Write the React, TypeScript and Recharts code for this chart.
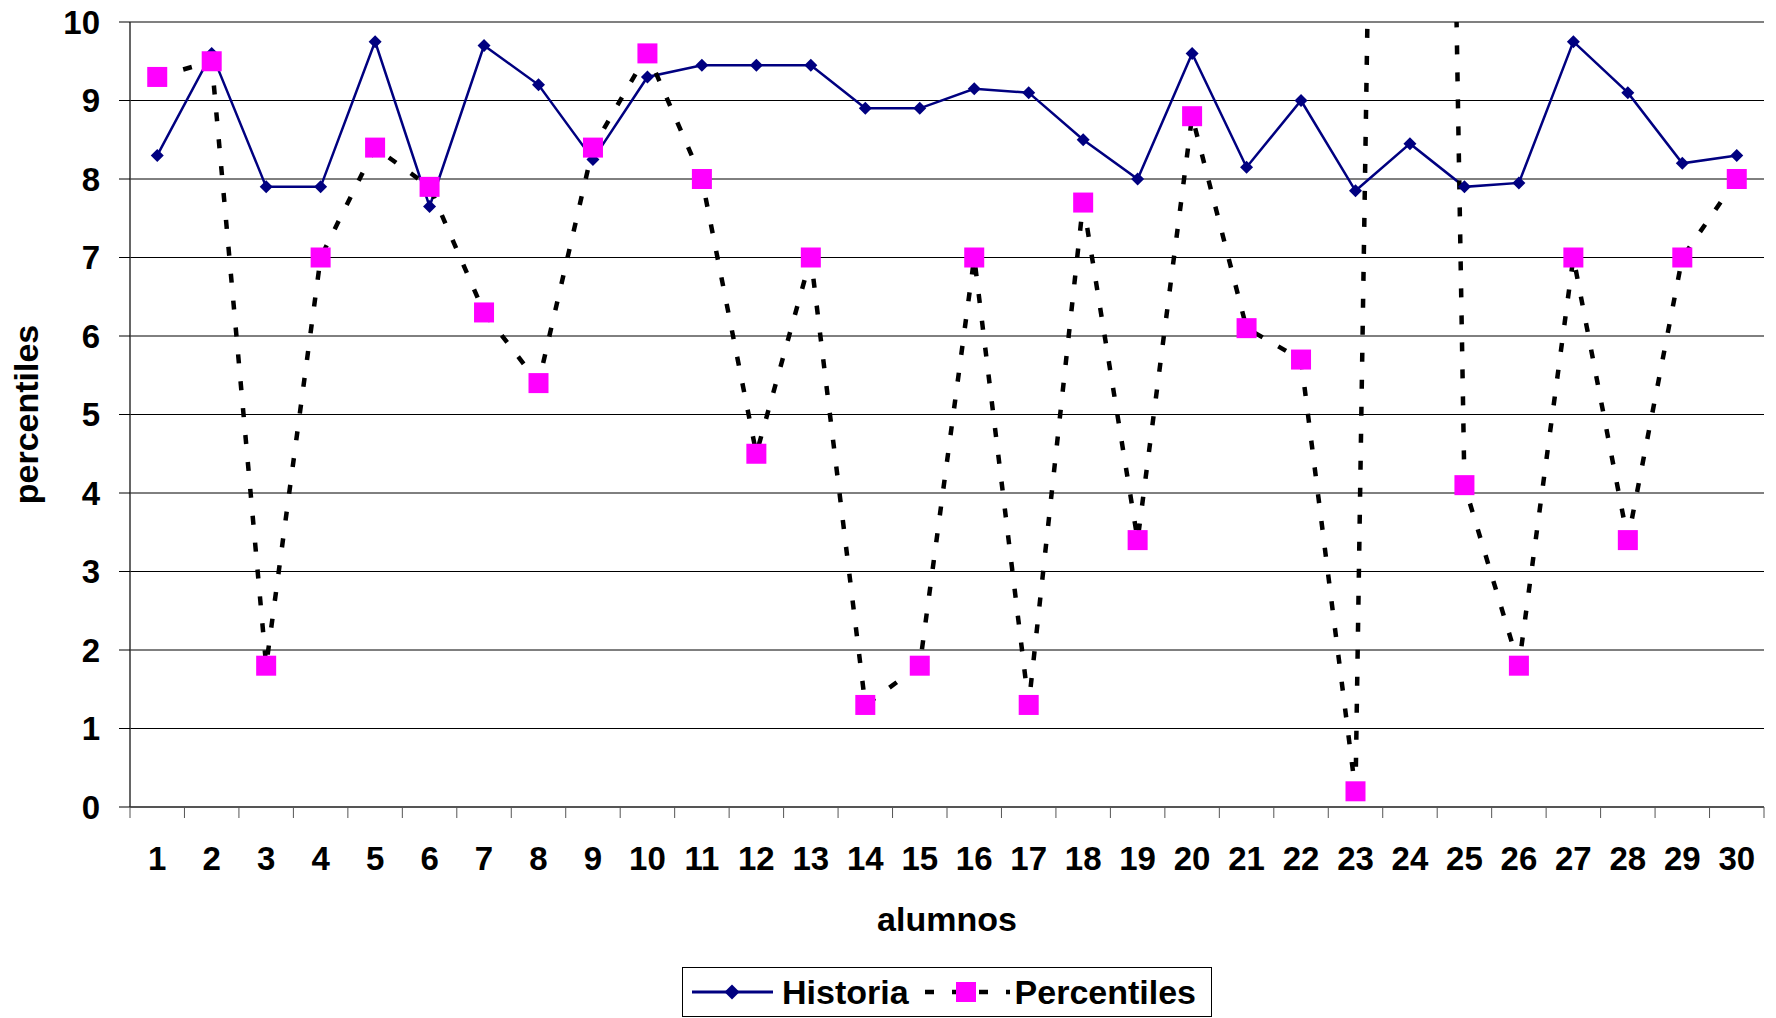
import { LineChart, Line, XAxis, YAxis, CartesianGrid, Legend, ReferenceLine } from 'recharts';

const alumnos = ['1', '2', '3', '4', '5', '6', '7', '8', '9', '10', '11', '12', '13', '14', '15', '16', '17', '18', '19', '20', '21', '22', '23', '24', '25', '26', '27', '28', '29', '30'];
const historia = [8.3, 9.6, 7.9, 7.9, 9.75, 7.65, 9.7, 9.2, 8.25, 9.3, 9.45, 9.45, 9.45, 8.9, 8.9, 9.15, 9.1, 8.5, 8.0, 9.6, 8.15, 9.0, 7.85, 8.45, 7.9, 7.95, 9.75, 9.1, 8.2, 8.3];
const percentiles = [9.3, 9.5, 1.8, 7.0, 8.4, 7.9, 6.3, 5.4, 8.4, 9.6, 8.0, 4.5, 7.0, 1.3, 1.8, 7.0, 1.3, 7.7, 3.4, 8.8, 6.1, 5.7, 0.2, 45, 4.1, 1.8, 7.0, 3.4, 7.0, 8.0];
const yTicks = [0, 1, 2, 3, 4, 5, 6, 7, 8, 9, 10];

const data = alumnos.map((a, i) => ({ alumno: a, Historia: historia[i], Percentiles: percentiles[i] }));

const W = 1776;
const H = 1018;
const MARGIN = { top: 22, right: 12, bottom: 1, left: 30 };
const Y_AXIS_W = 100;
const X_AXIS_H = 160;
const LEGEND_H = 50;
const AXIS_Y = H - MARGIN.bottom - LEGEND_H - X_AXIS_H;
const PLOT_W = W - MARGIN.left - Y_AXIS_W - MARGIN.right;
const BAND = PLOT_W / alumnos.length;

const FONT = '"Liberation Sans", Arial, sans-serif';
const NAVY = '#000080';
const MAGENTA = '#FF00FF';

function XTick(props: any) {
  const { x, payload } = props;
  const index = props.index ?? payload.index;
  const half = BAND / 2;
  return (
    <g>
      <line x1={x - half} x2={x - half} y1={AXIS_Y} y2={AXIS_Y + 11} stroke="#555" />
      {index === alumnos.length - 1 && (
        <line x1={x + half} x2={x + half} y1={AXIS_Y} y2={AXIS_Y + 11} stroke="#555" />
      )}
      <text x={x} y={AXIS_Y + 63} textAnchor="middle" fontSize={33} fontWeight={700} fontFamily={FONT} fill="#000">
        {payload.value}
      </text>
    </g>
  );
}

function Diamond(props: any) {
  const { cx, cy, s = 6.5 } = props;
  if (cx == null || cy == null) return null;
  return <polygon points={`${cx},${cy - s} ${cx + s},${cy} ${cx},${cy + s} ${cx - s},${cy}`} fill={NAVY} />;
}

function Square(props: any) {
  const { cx, cy, s = 10 } = props;
  if (cx == null || cy == null) return null;
  return <rect x={cx - s} y={cy - s} width={s * 2} height={s * 2} fill={MAGENTA} />;
}

function LegendBox() {
  const textStyle = { fontSize: 34, fontWeight: 700, fontFamily: FONT, color: '#000', lineHeight: '34px' };
  return (
    <div
      style={{
        boxSizing: 'border-box',
        height: LEGEND_H,
        width: 530,
        border: '1.5px solid #000',
        display: 'flex',
        alignItems: 'center',
        paddingLeft: 9,
        background: '#fff',
      }}
    >
      <svg width={81} height={30} style={{ marginRight: 9 }}>
        <line x1={0} x2={81} y1={15} y2={15} stroke={NAVY} strokeWidth={3} />
        <Diamond cx={40} cy={15} s={7.5} />
      </svg>
      <span style={textStyle}>Historia</span>
      <svg width={85} height={30} style={{ marginLeft: 16, marginRight: 5 }}>
        <line x1={0} x2={85} y1={15} y2={15} stroke="#000" strokeWidth={4.5} strokeDasharray="9 18" />
        <Square cx={41} cy={15} s={10} />
      </svg>
      <span style={textStyle}>Percentiles</span>
    </div>
  );
}

export default function App() {
  return (
    <div style={{ position: 'absolute', left: 0, top: 0, width: W, height: H, background: '#fff', fontFamily: FONT }}>
      <LineChart width={W} height={H} data={data} margin={MARGIN}>
        <CartesianGrid vertical={false} stroke="#000" strokeWidth={1} />
        <XAxis
          dataKey="alumno"
          interval={0}
          height={X_AXIS_H}
          padding={{ left: BAND / 2, right: BAND / 2 }}
          tickLine={false}
          tick={(p: any) => <XTick key={p.index ?? p.payload.value} {...p} />}
          axisLine={{ stroke: '#555', strokeWidth: 2 }}
          label={{
            content: (p: any) => (
              <text
                x={p.viewBox.x + p.viewBox.width / 2}
                y={p.viewBox.y + 124}
                textAnchor="middle"
                fontSize={34}
                fontWeight={700}
                fontFamily={FONT}
                fill="#000"
              >
                alumnos
              </text>
            ),
          }}
        />
        <YAxis
          type="number"
          domain={[0, 10]}
          ticks={yTicks}
          allowDataOverflow
          width={Y_AXIS_W}
          tickSize={11}
          tickMargin={19}
          tick={{ fill: '#000', fontSize: 33, fontWeight: 700, fontFamily: FONT }}
          tickLine={{ stroke: '#000' }}
          axisLine={{ stroke: '#333', strokeWidth: 1.5 }}
          label={{
            content: (p: any) => {
              const cy = p.viewBox.y + p.viewBox.height / 2;
              return (
                <text
                  x={38}
                  y={cy}
                  transform={`rotate(-90, 38, ${cy})`}
                  textAnchor="middle"
                  fontSize={34}
                  fontWeight={700}
                  fontFamily={FONT}
                  fill="#000"
                >
                  percentiles
                </text>
              );
            },
          }}
        />
        <YAxis
          yAxisId="right"
          orientation="right"
          type="number"
          domain={[0, 10]}
          width={0}
          tick={false}
          tickLine={false}
          axisLine={{ stroke: '#808080', strokeWidth: 2 }}
        />
        <ReferenceLine y={10} stroke="#808080" strokeWidth={2} />
        <Line
          dataKey="Historia"
          name="Historia"
          type="linear"
          stroke={NAVY}
          strokeWidth={2.5}
          dot={(p: any) => <Diamond key={p.index} cx={p.cx} cy={p.cy} />}
          activeDot={false}
          isAnimationActive={false}
        />
        <Line
          dataKey="Percentiles"
          name="Percentiles"
          type="linear"
          stroke="#000"
          strokeWidth={4.5}
          strokeDasharray="9 18"
          dot={(p: any) => <Square key={p.index} cx={p.cx} cy={p.cy} />}
          activeDot={false}
          isAnimationActive={false}
        />
        <Legend
          verticalAlign="bottom"
          align="left"
          wrapperStyle={{ left: 682, bottom: MARGIN.bottom, width: 530, height: LEGEND_H }}
          content={() => <LegendBox />}
        />
      </LineChart>
    </div>
  );
}
